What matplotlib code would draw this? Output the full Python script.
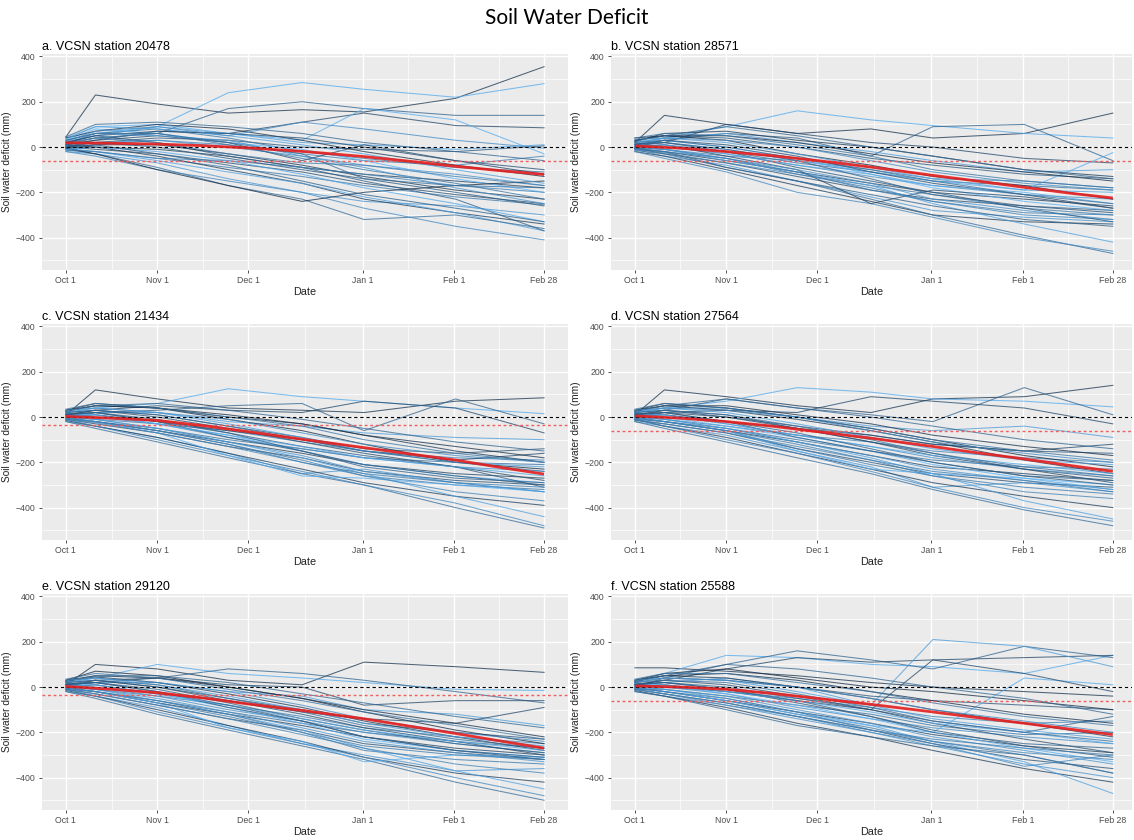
import matplotlib
matplotlib.use("Agg")
import matplotlib.pyplot as plt
from matplotlib.colors import LinearSegmentedColormap

# ---------------- data ----------------
tick_pos = [0, 30.9, 61.8, 100.5, 131.5, 162]
tick_labels = ["Oct 1", "Nov 1", "Dec 1", "Jan 1", "Feb 1", "Feb 28"]
x_pts = [0, 10, 31, 55, 80, 101, 132, 162]
x_mean = [0, 15.5, 31, 46.4, 62, 81, 101, 116, 132, 147, 162]

years = [1973, 2015, 1990, 1980, 2010, 1985, 2000, 1995, 2005, 1978, 2018,
         1983, 1998, 2008, 1976, 2012, 1993, 2003, 1988, 1970, 2016, 1981,
         1975, 2001,
         1972, 2011, 1982, 1996, 2007, 1986, 2014, 1991, 1999, 2004, 1989, 1994]

titles = ["a. VCSN station 20478", "b. VCSN station 28571",
          "c. VCSN station 21434", "d. VCSN station 27564",
          "e. VCSN station 29120", "f. VCSN station 25588"]

threshold = [-60, -60, -33, -61, -34, -60]

lines_a = [
    [45, 230, 190, 150, 165, 155, 215, 355],
    [30, 60, 90, 240, 285, 255, 220, 280],
    [20, 40, 60, 170, 200, 170, 140, 140],
    [10, 30, 70, 60, 110, 150, 95, 85],
    [25, 50, 90, 60, 20, 10, -10, 10],
    [0, 20, 40, 30, 0, -10, -20, 5],
    [-10, 10, 30, 10, -30, -60, -80, -40],
    [15, 60, 80, 40, -20, -50, -90, -110],
    [5, 20, 30, 0, -40, -80, -120, -170],
    [-5, 0, -10, -40, -90, -120, -150, -180],
    [30, 80, 60, 20, -10, -60, -140, -200],
    [0, -10, -30, -70, -110, -160, -210, -250],
    [-15, -20, -50, -90, -130, -170, -220, -255],
    [-20, -30, -70, -140, -200, -240, -260, -300],
    [10, 0, -40, -100, -160, -230, -290, -340],
    [-5, -20, -60, -110, -160, -220, -290, -370],
    [-10, -30, -90, -170, -230, -320, -300, -360],
    [-20, -40, -100, -150, -200, -270, -350, -410],
    [20, 50, 20, -40, -90, -150, -230, -370],
    [-5, -30, -100, -170, -240, -200, -170, -150],
    [40, 90, 100, 60, 30, 170, 120, -30],
    [10, 30, 50, 20, -60, 10, -60, -120],
    [0, 10, 10, -30, -80, -130, -190, -230],
    [-10, -20, -50, -60, -90, -120, -170, -200],
    [40, 70, 100, 80, 30, -20, -80, -130],
    [35, 90, 80, 50, 10, -30, -100, -160],
    [20, 50, 70, 60, 40, 0, -60, -100],
    [10, 40, 60, 10, -50, -100, -160, -230],
    [30, 60, 50, 30, -40, -90, -180, -250],
    [5, 20, 0, -50, -100, -140, -200, -260],
    [-10, 0, -20, -60, -120, -180, -250, -330],
    [45, 100, 110, 90, 60, 20, -20, -60],
    [15, 40, 20, -30, -70, -80, -130, -170],
    [25, 70, 90, 50, 110, 80, 30, -5],
    [0, 10, -30, -80, -150, -210, -270, -330],
    [30, 60, 60, 20, -30, -140, -170, -180],
]
lines_b = [
    [20, 140, 100, 60, 80, 40, 60, 150],
    [10, 40, 90, 160, 120, 95, 60, 40],
    [0, 30, 60, 40, -40, 90, 100, -60],
    [5, 20, 100, 60, 20, 0, -50, -70],
    [20, 40, 60, 20, -20, -60, -110, -100],
    [30, 50, 40, 0, -50, -80, -120, -140],
    [-5, -10, -40, -60, -100, -140, -150, -180],
    [0, 10, -20, -70, -110, -150, -170, -190],
    [10, 0, -30, -80, -130, -170, -210, -230],
    [-10, -20, -60, -110, -160, -200, -230, -260],
    [15, 30, 0, -50, -120, -180, -240, -280],
    [-5, -30, -70, -130, -190, -230, -260, -290],
    [0, -10, -50, -120, -170, -210, -270, -300],
    [-10, -40, -80, -150, -220, -280, -310, -330],
    [-20, -40, -100, -170, -240, -300, -330, -340],
    [5, -10, -60, -110, -170, -250, -340, -420],
    [-15, -30, -90, -150, -230, -300, -390, -470],
    [-20, -50, -110, -200, -250, -310, -400, -460],
    [-5, -20, -90, -150, -210, -260, -320, -350],
    [40, 50, 30, -30, -80, -130, -170, -230],
    [10, 20, -10, -60, -110, -150, -190, -25],
    [0, 10, -40, -100, -250, -190, -220, -270],
    [25, 60, 70, 30, 0, -40, -100, -130],
    [-10, -25, -70, -120, -180, -240, -300, -320],
    [30, 50, 50, 20, -30, -70, -110, -150],
    [20, 40, 20, -30, -90, -140, -190, -200],
    [10, 30, 10, -40, -110, -160, -210, -270],
    [40, 60, 50, 10, -40, -100, -150, -180],
    [0, -10, -50, -100, -160, -230, -280, -320],
    [15, 20, -20, -90, -150, -200, -270, -330],
    [5, 10, -30, -80, -120, -170, -200, -250],
    [25, 50, 90, 50, 0, -40, -100, -140],
    [-5, -20, -50, -110, -190, -240, -290, -300],
    [35, 40, 30, 0, -60, -110, -160, -190],
    [10, 20, -10, -60, -140, -210, -260, -280],
    [20, 30, 0, -50, -100, -150, -210, -250],
]
lines_c = [
    [10, 120, 80, 40, 30, 20, 70, 85],
    [20, 40, 60, 125, 90, 70, 40, 15],
    [0, 20, 30, 50, 60, -60, 80, -30],
    [10, 30, 50, 30, 20, 70, 40, -70],
    [5, 20, 20, -20, -40, -70, -90, -100],
    [20, 30, 10, -40, -90, -140, -160, -140],
    [0, -10, -30, -60, -110, -150, -180, -190],
    [-10, -20, -50, -100, -140, -180, -200, -210],
    [10, 0, -30, -90, -140, -180, -220, -240],
    [-5, -20, -60, -110, -160, -210, -250, -270],
    [15, 10, -30, -80, -150, -210, -260, -290],
    [-10, -30, -70, -130, -180, -240, -280, -300],
    [0, -20, -60, -120, -190, -260, -300, -320],
    [-20, -40, -90, -160, -250, -230, -290, -330],
    [-15, -40, -90, -160, -230, -290, -350, -390],
    [5, -10, -50, -110, -180, -250, -350, -440],
    [-20, -50, -110, -180, -250, -300, -400, -490],
    [-10, -40, -100, -170, -240, -300, -380, -480],
    [10, 20, -10, -70, -130, -170, -220, -310],
    [30, 60, 40, -10, -60, -120, -200, -230],
    [-5, -20, -70, -170, -260, -270, -300, -330],
    [0, 10, -20, -60, -100, -150, -190, -160],
    [25, 50, 40, 0, -30, -80, -150, -200],
    [-10, -25, -70, -130, -200, -260, -330, -370],
    [30, 50, 40, 10, -30, -80, -130, -180],
    [20, 40, 20, -30, -90, -150, -200, -220],
    [10, 30, 0, -50, -110, -160, -220, -280],
    [35, 60, 40, 0, -40, -100, -160, -200],
    [0, -10, -50, -110, -170, -240, -290, -330],
    [15, 20, -20, -90, -150, -210, -260, -300],
    [5, 10, -30, -80, -130, -180, -220, -260],
    [25, 50, 60, 30, -10, -50, -110, -150],
    [-5, -20, -60, -120, -200, -250, -290, -310],
    [30, 40, 20, -10, -70, -120, -170, -200],
    [10, 20, -20, -70, -150, -220, -270, -290],
    [20, 30, 10, -40, -100, -150, -200, -240],
]
lines_d = [
    [10, 120, 90, 50, 20, 80, 90, 140],
    [20, 40, 70, 130, 110, 80, 70, 45],
    [5, 30, 80, 40, 10, -20, 130, 10],
    [0, 20, 30, 20, 90, 70, 40, -30],
    [20, 40, 40, 0, -40, -60, -40, -90],
    [10, 20, 0, -40, -80, -120, -150, -160],
    [0, -10, -40, -80, -110, -150, -180, -200],
    [-10, -20, -50, -100, -150, -190, -220, -230],
    [15, 10, -30, -80, -130, -180, -230, -260],
    [-5, -20, -60, -110, -170, -220, -250, -280],
    [10, 0, -40, -90, -150, -210, -270, -300],
    [-15, -30, -70, -140, -200, -250, -290, -310],
    [0, -20, -60, -140, -210, -260, -310, -340],
    [-20, -40, -80, -150, -220, -310, -290, -330],
    [-10, -40, -90, -160, -230, -290, -350, -400],
    [5, -10, -50, -110, -180, -250, -370, -450],
    [-20, -50, -110, -180, -250, -320, -410, -480],
    [-10, -40, -100, -160, -240, -310, -400, -460],
    [20, 30, 10, -50, -110, -160, -230, -270],
    [30, 60, 40, 0, -50, -100, -170, -220],
    [-5, -20, -60, -150, -230, -250, -270, -320],
    [0, 10, -20, -50, -80, -120, -150, -120],
    [25, 50, 30, -10, -60, -110, -190, -250],
    [-10, -30, -70, -130, -190, -260, -330, -360],
    [30, 50, 50, 10, -30, -80, -130, -170],
    [20, 40, 20, -30, -90, -140, -190, -210],
    [10, 30, 0, -50, -110, -170, -230, -290],
    [35, 60, 40, 0, -50, -100, -150, -190],
    [0, -10, -50, -110, -170, -230, -280, -320],
    [15, 20, -20, -90, -150, -200, -260, -300],
    [5, 10, -30, -80, -130, -170, -210, -250],
    [25, 50, 80, 40, 0, -40, -100, -140],
    [-5, -20, -60, -120, -190, -240, -280, -330],
    [30, 40, 30, 0, -60, -110, -160, -200],
    [10, 20, -20, -70, -140, -200, -260, -280],
    [20, 30, 10, -40, -100, -160, -220, -260],
]
lines_e = [
    [10, 100, 80, 30, 10, 110, 90, 65],
    [20, 40, 100, 60, 40, 20, -10, -15],
    [0, 30, 40, 80, 60, 30, -20, -70],
    [10, 20, 40, 10, 0, -80, -60, -60],
    [5, 20, 20, -20, -40, -100, -120, -170],
    [20, 30, 0, -50, -100, -160, -200, -230],
    [0, -10, -40, -80, -130, -180, -220, -250],
    [-10, -20, -60, -110, -160, -200, -240, -270],
    [10, 0, -40, -100, -150, -200, -250, -290],
    [-5, -20, -70, -120, -170, -220, -270, -300],
    [15, 10, -30, -90, -160, -230, -280, -310],
    [-10, -30, -80, -140, -190, -250, -290, -320],
    [0, -20, -70, -130, -200, -280, -320, -340],
    [-20, -40, -90, -170, -250, -300, -370, -360],
    [-15, -40, -100, -170, -240, -310, -380, -420],
    [5, -10, -60, -120, -190, -270, -370, -450],
    [-20, -50, -120, -190, -260, -320, -420, -500],
    [-10, -40, -110, -180, -250, -310, -400, -480],
    [10, 20, -10, -70, -140, -190, -250, -290],
    [30, 70, 50, 0, -50, -110, -190, -250],
    [-5, -20, -70, -180, -240, -330, -300, -310],
    [0, 10, -30, -60, -110, -140, -160, -90],
    [25, 45, 20, -30, -90, -150, -220, -280],
    [-10, -30, -80, -140, -210, -270, -340, -380],
    [30, 50, 40, 0, -50, -100, -160, -220],
    [20, 40, 10, -40, -100, -160, -220, -260],
    [10, 30, 0, -60, -120, -180, -240, -300],
    [35, 60, 40, -10, -60, -110, -170, -230],
    [0, -10, -50, -110, -180, -240, -290, -330],
    [15, 20, -20, -90, -150, -220, -280, -320],
    [5, 10, -30, -80, -140, -190, -240, -280],
    [25, 50, 50, 20, -30, -70, -130, -180],
    [-5, -20, -60, -120, -200, -260, -300, -320],
    [30, 40, 20, -20, -80, -140, -200, -240],
    [10, 20, -20, -80, -150, -220, -280, -310],
    [20, 30, 10, -50, -110, -170, -230, -270],
]
lines_f = [
    [85, 85, 70, 50, 20, 0, -20, -40],
    [20, 60, 140, 130, 100, 90, 60, 140],
    [0, 40, 100, 160, 120, 80, 180, 130],
    [10, 30, 80, 130, 110, 120, 130, 140],
    [5, 20, 40, 0, -80, 210, 180, 90],
    [20, 40, 30, 0, -40, -60, -80, -100],
    [0, 0, -20, -50, -90, -130, -160, -150],
    [-10, -10, -40, -80, -120, -170, -210, -200],
    [10, 0, -30, -90, -140, -180, -220, -250],
    [-5, -20, -60, -110, -160, -210, -260, -290],
    [15, 10, -30, -80, -140, -200, -270, -330],
    [-10, -30, -70, -130, -190, -250, -320, -360],
    [0, -20, -60, -120, -180, -240, -300, -380],
    [-20, -40, -80, -140, -200, -260, -340, -400],
    [-15, -40, -90, -160, -220, -280, -360, -420],
    [5, -10, -50, -110, -170, -240, -330, -470],
    [-20, -40, -100, -170, -220, -260, -300, -380],
    [-10, -30, -80, -130, -200, -250, -350, -300],
    [10, 20, 0, -50, -100, -150, -200, -130],
    [30, 60, 80, 40, 0, -20, -60, -100],
    [-5, -20, -60, -120, -170, -200, 40, 10],
    [0, 10, -20, -60, -100, 120, 60, -20],
    [25, 50, 40, 0, -50, -100, -160, -220],
    [-10, -30, -70, -130, -190, -240, -290, -320],
    [30, 50, 60, 30, -20, -60, -120, -160],
    [20, 40, 30, -20, -80, -140, -190, -230],
    [10, 30, 10, -40, -100, -160, -230, -290],
    [35, 60, 60, 20, -20, -70, -130, -170],
    [0, -10, -40, -100, -160, -220, -280, -340],
    [15, 20, -10, -70, -130, -190, -260, -310],
    [5, 10, -20, -60, -110, -160, -200, -250],
    [25, 50, 100, 80, 40, 0, -50, -120],
    [-5, -20, -50, -110, -190, -230, -270, -300],
    [30, 40, 30, 0, -50, -100, -150, -200],
    [10, 20, -10, -60, -130, -200, -250, -270],
    [20, 30, 20, -30, -90, -150, -200, -240],
]

mean_a = [19, 17, 13, 6, -4, -20, -42, -62, -85, -104, -121]
mean_b = [5, -5, -20, -38, -60, -90, -125, -150, -178, -203, -225]
mean_c = [3, -5, -15, -38, -65, -100, -135, -162, -190, -222, -252]
mean_d = [5, -5, -20, -40, -65, -95, -130, -158, -185, -213, -240]
mean_e = [3, -10, -25, -48, -75, -105, -140, -172, -205, -238, -270]
mean_f = [5, 0, -10, -28, -50, -78, -110, -135, -160, -185, -210]

all_lines = [lines_a, lines_b, lines_c, lines_d, lines_e, lines_f]
all_means = [mean_a, mean_b, mean_c, mean_d, mean_e, mean_f]

# ---------------- figure ----------------
W, H = 1134, 840
fig = plt.figure(figsize=(W / 100, H / 100), dpi=100)
fig.patch.set_facecolor("white")

cmap = LinearSegmentedColormap.from_list("gg", ["#132B43", "#56B1F7"])
ymin_y, ymax_y = min(years), max(years)

lefts = [42, 611]
tops = [54, 324, 594]
pw_left, pw_right, ph = 526, 521, 216

font = "Liberation Sans"

for i in range(6):
    r, c = divmod(i, 2)
    left = lefts[c]
    pw = pw_left if c == 0 else pw_right
    top = tops[r]
    ax = fig.add_axes([left / W, 1 - (top + ph) / H, pw / W, ph / H])
    ax.set_facecolor("#EBEBEB")
    for s in ax.spines.values():
        s.set_visible(False)
    ax.set_xlim(-8.1, 170.1 if c == 0 else 168.5)
    ax.set_ylim(-543, 411)
    ax.set_xticks(tick_pos)
    ax.set_xticklabels(tick_labels, fontfamily=font)
    ax.set_xticks([(tick_pos[k] + tick_pos[k + 1]) / 2 for k in range(5)], minor=True)
    ax.set_yticks([-400, -200, 0, 200, 400])
    ax.set_yticks([-500, -300, -100, 100, 300], minor=True)
    ax.grid(which="major", color="white", lw=1.0)
    ax.grid(which="minor", color="white", lw=0.5)
    ax.set_axisbelow(True)
    ax.tick_params(which="major", length=2.5, width=0.6, color="#333333",
                   labelsize=6.3, labelcolor="#4D4D4D", pad=2)
    ax.tick_params(which="minor", length=0)
    for lab in ax.get_yticklabels():
        lab.set_fontfamily(font)

    for k, vals in enumerate(all_lines[i]):
        col = cmap((years[k] - ymin_y) / (ymax_y - ymin_y))
        ax.plot(x_pts, vals, color=col, lw=0.75, alpha=0.75, zorder=2)

    ax.axhline(0, color="black", lw=0.8, ls=(0, (3, 2.5)), zorder=3)
    ax.axhline(threshold[i], color="#F25C5C", lw=1.0, ls=(0, (2, 2)), zorder=3)
    ax.plot(x_mean, all_means[i], color="#E41E1E", lw=2.0, alpha=0.9,
            solid_capstyle="butt", zorder=4)

    ax.set_xlabel("Date", fontsize=7.8, fontfamily=font, labelpad=1, color="#222222")
    ax.set_ylabel("Soil water deficit (mm)", fontsize=7.3, fontfamily=font,
                  labelpad=3, color="#222222")
    ax.set_title(titles[i], loc="left", fontsize=9, fontfamily=font,
                 pad=3, color="black")

fig.text(567 / W, 1 - 18 / H, "Soil Water Deficit", ha="center", va="center",
         fontsize=15, fontfamily="Lato", color="black")

fig.savefig("out.png", dpi=100, facecolor="white")
